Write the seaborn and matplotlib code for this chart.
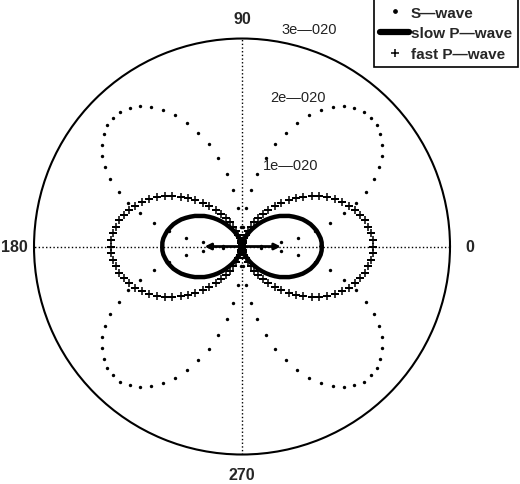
import numpy as np
import pandas as pd
import seaborn as sns
import matplotlib
matplotlib.use('Agg')
import matplotlib.pyplot as plt
from matplotlib.lines import Line2D

# angles of the samples (degrees) and radii in units of 1e-020
angle_deg = [
    0, 3, 6, 9, 12, 15, 18, 21, 24, 27, 30, 33, 36, 39, 42, 45, 48, 51, 54, 57,
    60, 63, 66, 69, 72, 75, 78, 81, 84, 87, 90, 93, 96, 99, 102, 105, 108, 111, 114, 117,
    120, 123, 126, 129, 132, 135, 138, 141, 144, 147, 150, 153, 156, 159, 162, 165, 168, 171, 174, 177,
    180, 183, 186, 189, 192, 195, 198, 201, 204, 207, 210, 213, 216, 219, 222, 225, 228, 231, 234, 237,
    240, 243, 246, 249, 252, 255, 258, 261, 264, 267, 270, 273, 276, 279, 282, 285, 288, 291, 294, 297,
    300, 303, 306, 309, 312, 315, 318, 321, 324, 327, 330, 333, 336, 339, 342, 345, 348, 351, 354, 357,
]

s_wave = [
    0.00, 0.28, 0.56, 0.82, 1.07, 1.32, 1.55, 1.76, 1.95, 2.13, 2.28, 2.40, 2.50, 2.57, 2.62,
    2.63, 2.62, 2.57, 2.50, 2.40, 2.28, 2.13, 1.95, 1.76, 1.55, 1.32, 1.07, 0.82, 0.56, 0.28,
    0.00, 0.28, 0.56, 0.82, 1.07, 1.32, 1.55, 1.76, 1.95, 2.13, 2.28, 2.40, 2.50, 2.57, 2.62,
    2.63, 2.62, 2.57, 2.50, 2.40, 2.28, 2.13, 1.95, 1.76, 1.55, 1.32, 1.07, 0.82, 0.56, 0.28,
    0.00, 0.28, 0.56, 0.82, 1.07, 1.32, 1.55, 1.76, 1.95, 2.13, 2.28, 2.40, 2.50, 2.57, 2.62,
    2.63, 2.62, 2.57, 2.50, 2.40, 2.28, 2.13, 1.95, 1.76, 1.55, 1.32, 1.07, 0.82, 0.56, 0.28,
    0.00, 0.28, 0.56, 0.82, 1.07, 1.32, 1.55, 1.76, 1.95, 2.13, 2.28, 2.40, 2.50, 2.57, 2.62,
    2.63, 2.62, 2.57, 2.50, 2.40, 2.28, 2.13, 1.95, 1.76, 1.55, 1.32, 1.07, 0.82, 0.56, 0.28,
]

slow_p = [
    1.15, 1.15, 1.14, 1.12, 1.10, 1.07, 1.04, 1.00, 0.96, 0.91, 0.86, 0.81, 0.75, 0.70, 0.64,
    0.58, 0.52, 0.46, 0.40, 0.34, 0.29, 0.24, 0.19, 0.15, 0.11, 0.08, 0.05, 0.03, 0.01, 0.00,
    0.00, 0.00, 0.01, 0.03, 0.05, 0.08, 0.11, 0.15, 0.19, 0.24, 0.29, 0.34, 0.40, 0.46, 0.52,
    0.58, 0.64, 0.70, 0.75, 0.81, 0.86, 0.91, 0.96, 1.00, 1.04, 1.07, 1.10, 1.12, 1.14, 1.15,
    1.15, 1.15, 1.14, 1.12, 1.10, 1.07, 1.04, 1.00, 0.96, 0.91, 0.86, 0.81, 0.75, 0.70, 0.64,
    0.58, 0.52, 0.46, 0.40, 0.34, 0.29, 0.24, 0.19, 0.15, 0.11, 0.08, 0.05, 0.03, 0.01, 0.00,
    0.00, 0.00, 0.01, 0.03, 0.05, 0.08, 0.11, 0.15, 0.19, 0.24, 0.29, 0.34, 0.40, 0.46, 0.52,
    0.58, 0.64, 0.70, 0.75, 0.81, 0.86, 0.91, 0.96, 1.00, 1.04, 1.07, 1.10, 1.12, 1.14, 1.15,
]

fast_p = [
    1.89, 1.89, 1.87, 1.84, 1.81, 1.76, 1.71, 1.65, 1.58, 1.50, 1.42, 1.33, 1.24, 1.14, 1.04,
    0.95, 0.85, 0.75, 0.65, 0.56, 0.47, 0.39, 0.31, 0.24, 0.18, 0.13, 0.08, 0.05, 0.02, 0.01,
    0.00, 0.01, 0.02, 0.05, 0.08, 0.13, 0.18, 0.24, 0.31, 0.39, 0.47, 0.56, 0.65, 0.75, 0.85,
    0.95, 1.04, 1.14, 1.24, 1.33, 1.42, 1.50, 1.58, 1.65, 1.71, 1.76, 1.81, 1.84, 1.87, 1.89,
    1.89, 1.89, 1.87, 1.84, 1.81, 1.76, 1.71, 1.65, 1.58, 1.50, 1.42, 1.33, 1.24, 1.14, 1.04,
    0.95, 0.85, 0.75, 0.65, 0.56, 0.47, 0.39, 0.31, 0.24, 0.18, 0.13, 0.08, 0.05, 0.02, 0.01,
    0.00, 0.01, 0.02, 0.05, 0.08, 0.13, 0.18, 0.24, 0.31, 0.39, 0.47, 0.56, 0.65, 0.75, 0.85,
    0.95, 1.04, 1.14, 1.24, 1.33, 1.42, 1.50, 1.58, 1.65, 1.71, 1.76, 1.81, 1.84, 1.87, 1.89,
]

# polarisation arrows in the middle
arrow_deg = [0, 180]
arrow_len = [0.56, 0.54]

r_max = 3
angle_ticks = [0, 90, 180, 270]
angle_labels = ['0', '90', '180', '270']
ring_labels = ['1e\u2014020', '2e\u2014020', '3e\u2014020']
legend_labels = ['S\u2014wave', 'slow P\u2014wave', 'fast P\u2014wave']

sns.set_style('white')
plt.rcParams['font.family'] = ['Liberation Sans', 'DejaVu Sans']

df = pd.DataFrame({'theta': np.deg2rad(angle_deg), 's': s_wave, 'slow': slow_p, 'fast': fast_p})
df_line = pd.concat([df, df.iloc[[0]].assign(theta=2 * np.pi)], ignore_index=True)

fig = plt.figure(figsize=(5.2, 4.85), dpi=100)
ax = fig.add_axes([0.0654, 0.0608, 0.8, 0.8577], projection='polar')

sns.scatterplot(data=df, x='theta', y='s', marker='o', s=6, color='k', linewidth=0, ax=ax)
sns.lineplot(data=df_line, x='theta', y='slow', sort=False, estimator=None,
             color='k', linewidth=3.2, ax=ax)
sns.scatterplot(data=df, x='theta', y='fast', marker='+', s=30, color='k', linewidth=1.1, ax=ax)

for a, ln in zip(arrow_deg, arrow_len):
    ax.annotate('', xy=(np.deg2rad(a), ln), xytext=(0, 0),
                arrowprops=dict(arrowstyle='-|>', color='k', lw=2, mutation_scale=9,
                                shrinkA=0, shrinkB=0))

ax.set_ylim(0, r_max)
ax.set_yticks([])
ax.set_xticks(np.deg2rad(angle_ticks))
ax.set_xticklabels([])
ax.xaxis.grid(True, linestyle=':', color='k', linewidth=1.0)
ax.yaxis.grid(False)
ax.set_axisbelow(True)
ax.set_xlabel('')
ax.set_ylabel('')
ax.spines['polar'].set_color('k')
ax.spines['polar'].set_linewidth(1.5)

# angle labels outside the circle
for a, lab in zip(angle_ticks, angle_labels):
    ax.text(np.deg2rad(a), 3.29, lab, ha='center', va='center',
            fontsize=11.5, fontweight='bold')

# ring value labels
ring_pos = [(75.5, 1.21), (79.2, 2.2), (79.7, 3.19)]
for (a, r), lab in zip(ring_pos, ring_labels):
    ax.text(np.deg2rad(a), r, lab, ha='left', va='center', fontsize=10.5, color='#222222')

handles = [
    Line2D([], [], marker='o', markersize=2.4, linestyle='', color='k'),
    Line2D([], [], color='k', linewidth=4.5),
    Line2D([], [], marker='+', markersize=5.5, markeredgewidth=1.1, linestyle='', color='k'),
]
leg = fig.legend(handles, legend_labels, loc='upper right', bbox_to_anchor=(0.996, 0.999),
                 frameon=True, fancybox=False, edgecolor='k', framealpha=1,
                 prop={'weight': 'bold', 'size': 11}, handlelength=1.9, handletextpad=0.1,
                 borderpad=0.4, labelspacing=0.45, borderaxespad=0)
leg.get_frame().set_linewidth(1.2)

fig.savefig('out.png', dpi=100)
